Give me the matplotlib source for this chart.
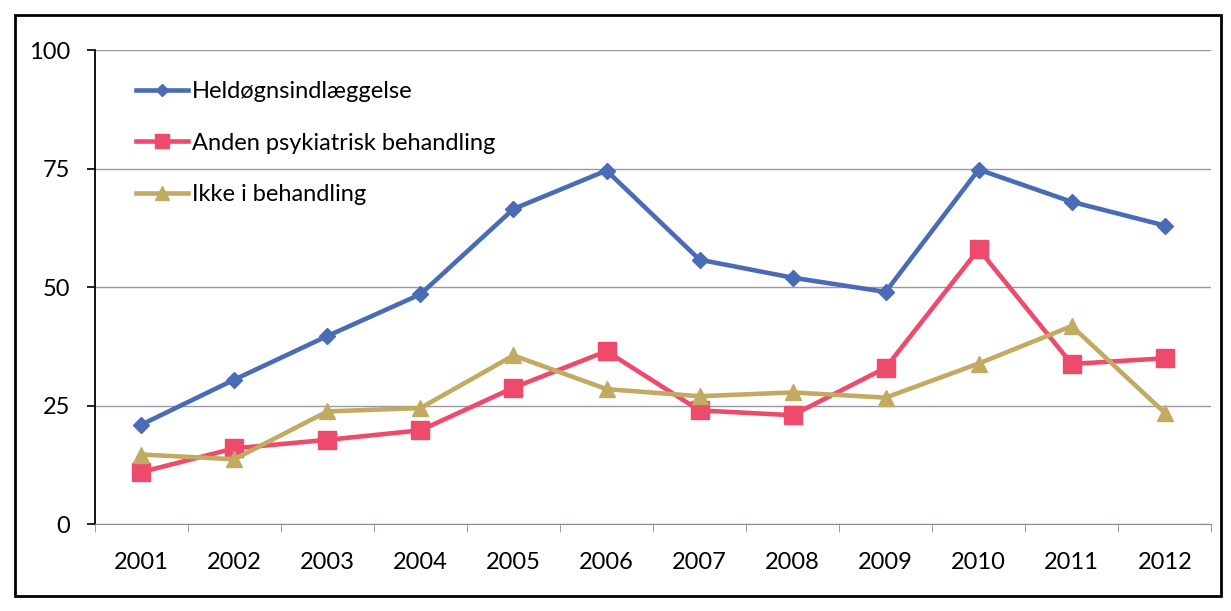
import matplotlib.pyplot as plt
from matplotlib.patches import Rectangle

years = ["2001", "2002", "2003", "2004", "2005", "2006",
         "2007", "2008", "2009", "2010", "2011", "2012"]
heldogn = [21, 30.5, 39.7, 48.5, 66.5, 74.6, 55.8, 52, 49, 74.8, 68, 63]
anden = [11, 16, 17.8, 19.8, 28.8, 36.5, 24, 23, 33, 58, 33.8, 35]
ikke = [14.7, 13.7, 23.8, 24.5, 35.6, 28.5, 27, 27.8, 26.7, 33.9, 41.8, 23.5]

yticks = [0, 25, 50, 75, 100]

plt.rcParams["font.family"] = ["Lato", "DejaVu Sans"]

fig = plt.figure(figsize=(12.31, 6.11), dpi=100)
ax = fig.add_axes([0.077, 0.142, 0.907, 0.776])

x = range(len(years))
ax.plot(x, heldogn, color="#4A6BB6", lw=3.3, marker="D", ms=8,
        label="Heldøgnsindlæggelse", zorder=4)
ax.plot(x, anden, color="#EE4A6B", lw=3.3, marker="s", ms=13,
        label="Anden psykiatrisk behandling", zorder=3)
ax.plot(x, ikke, color="#C2AA62", lw=3.3, marker="^", ms=12,
        label="Ikke i behandling", zorder=3)

ax.set_xlim(-0.5, len(years) - 0.5)
ax.set_ylim(0, 100)
ax.set_yticks(yticks)
ax.set_yticklabels([str(v) for v in yticks], fontsize=17)
ax.set_xticks(list(x))
ax.set_xticklabels(years, fontsize=17)
ax.set_xticks([i + 0.5 for i in range(-1, len(years))], minor=True)
ax.tick_params(axis="x", which="major", length=0, pad=20)
ax.tick_params(axis="x", which="minor", length=6, color="#8a8a9a", direction="out")
ax.tick_params(axis="y", length=6, width=1.2, color="black", pad=12)

ax.grid(axis="y", color="#9a98a8", lw=1)
ax.set_axisbelow(True)
for s in ["top", "right"]:
    ax.spines[s].set_visible(False)
ax.spines["left"].set_color("black")
ax.spines["left"].set_linewidth(1.3)
ax.spines["bottom"].set_color("#8a8a9a")

ax.legend(loc="upper left", frameon=False, fontsize=17, handlelength=2.2,
          handletextpad=0.15, labelspacing=1.3, bbox_to_anchor=(0.018, 0.98),
          markerscale=0.8)

fig.patches.append(Rectangle((0.012, 0.025), 0.98, 0.95, transform=fig.transFigure,
                             fill=False, ec="black", lw=2))

fig.savefig("out.png", dpi=100)
